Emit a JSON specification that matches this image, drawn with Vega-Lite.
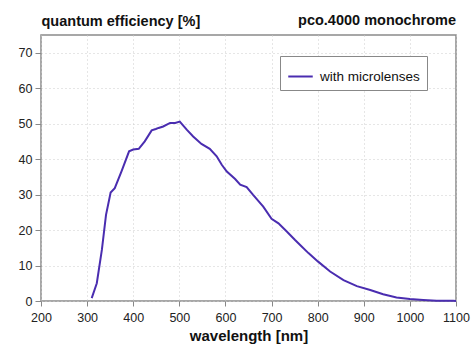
{
  "$schema": "https://vega.github.io/schema/vega-lite/v6.json",
  "width": 415,
  "height": 266,
  "autosize": {"type": "none"},
  "padding": {"left": 41, "top": 35, "right": 18, "bottom": 55},
  "background": "white",
  "title": {"text": "pco.4000 monochrome", "anchor": "end", "frame": "group", "fontSize": 14.5, "font": "Liberation Sans", "fontWeight": "bold", "color": "#111111", "offset": 8, "dy": 23},
  "config": {
    "view": {"stroke": "#8a8a8a", "strokeWidth": 1.5},
    "font": "Liberation Sans"
  },
  "data": {
    "values": [
      {"wavelength": 310, "qe": 0.8, "series": "with microlenses"},
      {"wavelength": 321, "qe": 5.0, "series": "with microlenses"},
      {"wavelength": 332, "qe": 14.4, "series": "with microlenses"},
      {"wavelength": 341, "qe": 24.3, "series": "with microlenses"},
      {"wavelength": 351, "qe": 30.6, "series": "with microlenses"},
      {"wavelength": 360, "qe": 31.8, "series": "with microlenses"},
      {"wavelength": 375, "qe": 36.7, "series": "with microlenses"},
      {"wavelength": 391, "qe": 42.2, "series": "with microlenses"},
      {"wavelength": 400, "qe": 42.7, "series": "with microlenses"},
      {"wavelength": 412, "qe": 42.9, "series": "with microlenses"},
      {"wavelength": 425, "qe": 45.0, "series": "with microlenses"},
      {"wavelength": 440, "qe": 48.1, "series": "with microlenses"},
      {"wavelength": 449, "qe": 48.5, "series": "with microlenses"},
      {"wavelength": 455, "qe": 48.8, "series": "with microlenses"},
      {"wavelength": 465, "qe": 49.2, "series": "with microlenses"},
      {"wavelength": 480, "qe": 50.2, "series": "with microlenses"},
      {"wavelength": 491, "qe": 50.2, "series": "with microlenses"},
      {"wavelength": 501, "qe": 50.6, "series": "with microlenses"},
      {"wavelength": 516, "qe": 48.3, "series": "with microlenses"},
      {"wavelength": 530, "qe": 46.4, "series": "with microlenses"},
      {"wavelength": 548, "qe": 44.3, "series": "with microlenses"},
      {"wavelength": 566, "qe": 42.9, "series": "with microlenses"},
      {"wavelength": 581, "qe": 40.8, "series": "with microlenses"},
      {"wavelength": 592, "qe": 38.4, "series": "with microlenses"},
      {"wavelength": 603, "qe": 36.5, "series": "with microlenses"},
      {"wavelength": 621, "qe": 34.4, "series": "with microlenses"},
      {"wavelength": 632, "qe": 32.8, "series": "with microlenses"},
      {"wavelength": 646, "qe": 32.1, "series": "with microlenses"},
      {"wavelength": 660, "qe": 29.9, "series": "with microlenses"},
      {"wavelength": 682, "qe": 26.6, "series": "with microlenses"},
      {"wavelength": 700, "qe": 23.2, "series": "with microlenses"},
      {"wavelength": 715, "qe": 21.9, "series": "with microlenses"},
      {"wavelength": 733, "qe": 19.6, "series": "with microlenses"},
      {"wavelength": 751, "qe": 17.2, "series": "with microlenses"},
      {"wavelength": 762, "qe": 15.8, "series": "with microlenses"},
      {"wavelength": 780, "qe": 13.5, "series": "with microlenses"},
      {"wavelength": 801, "qe": 11.1, "series": "with microlenses"},
      {"wavelength": 827, "qe": 8.3, "series": "with microlenses"},
      {"wavelength": 856, "qe": 5.9, "series": "with microlenses"},
      {"wavelength": 885, "qe": 4.2, "series": "with microlenses"},
      {"wavelength": 914, "qe": 3.1, "series": "with microlenses"},
      {"wavelength": 942, "qe": 1.9, "series": "with microlenses"},
      {"wavelength": 971, "qe": 1.0, "series": "with microlenses"},
      {"wavelength": 1000, "qe": 0.55, "series": "with microlenses"},
      {"wavelength": 1029, "qe": 0.3, "series": "with microlenses"},
      {"wavelength": 1058, "qe": 0.1, "series": "with microlenses"},
      {"wavelength": 1094, "qe": 0.05, "series": "with microlenses"},
      {"wavelength": 1100, "qe": 0.03, "series": "with microlenses"}
    ]
  },
  "mark": {"type": "line", "strokeWidth": 2, "interpolate": "linear"},
  "encoding": {
    "x": {
      "field": "wavelength",
      "type": "quantitative",
      "scale": {"domain": [200, 1100], "nice": false, "zero": false},
      "axis": {
        "values": [200, 300, 400, 500, 600, 700, 800, 900, 1000, 1100],
        "format": "d",
        "title": "wavelength [nm]",
        "titleFontSize": 15,
        "titleFontWeight": "bold",
        "titleColor": "#111111",
        "titlePadding": 5,
        "labelFontSize": 12.5,
        "labelColor": "#222222",
        "labelPadding": 5,
        "labelFlush": false,
        "labelOverlap": false,
        "domain": false,
        "tickSize": 5,
        "tickColor": "#888888",
        "grid": true,
        "gridColor": "#cccccc",
        "gridDash": [1, 3]
      }
    },
    "y": {
      "field": "qe",
      "type": "quantitative",
      "scale": {"domain": [0, 75], "nice": false},
      "axis": {
        "values": [0, 10, 20, 30, 40, 50, 60, 70],
        "title": "quantum efficiency [%]",
        "titleAngle": 0,
        "titleAlign": "left",
        "titleBaseline": "alphabetic",
        "titleX": 0,
        "titleY": -10,
        "titleFontSize": 14.5,
        "titleFontWeight": "bold",
        "titleColor": "#111111",
        "labelFontSize": 12.5,
        "labelColor": "#222222",
        "labelPadding": 3,
        "labelFlush": false,
        "domain": false,
        "tickSize": 6,
        "tickColor": "#888888",
        "grid": true,
        "gridColor": "#cccccc",
        "gridDash": [1, 3]
      }
    },
    "color": {
      "field": "series",
      "type": "nominal",
      "scale": {"range": ["#4a2db0"]},
      "legend": {
        "title": null,
        "orient": "none",
        "legendX": 239,
        "legendY": 21,
        "strokeColor": "#888888",
        "fillColor": "white",
        "padding": 7,
        "cornerRadius": 0,
        "symbolType": "stroke",
        "symbolSize": 600,
        "symbolStrokeWidth": 2,
        "labelFontSize": 13.5,
        "labelColor": "#111111",
        "labelOffset": 6
      }
    }
  }
}
